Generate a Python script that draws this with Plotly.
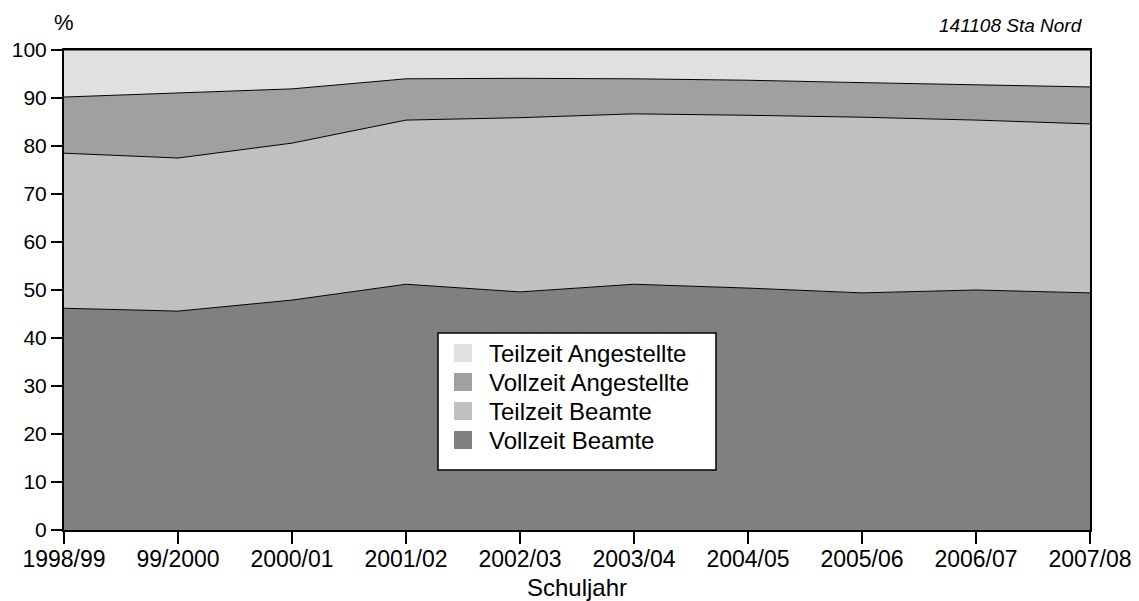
import plotly.graph_objects as go

years = ["1998/99", "99/2000", "2000/01", "2001/02", "2002/03",
         "2003/04", "2004/05", "2005/06", "2006/07", "2007/08"]
vollzeit_beamte = [46.2, 45.6, 47.9, 51.2, 49.6, 51.2, 50.4, 49.4, 50.0, 49.4]
teilzeit_beamte = [32.3, 31.9, 32.7, 34.2, 36.3, 35.5, 36.0, 36.6, 35.4, 35.2]
vollzeit_angestellte = [11.7, 13.5, 11.3, 8.6, 8.2, 7.3, 7.3, 7.2, 7.3, 7.7]
teilzeit_angestellte = [9.8, 9.0, 8.1, 6.0, 5.9, 6.0, 6.3, 6.8, 7.3, 7.7]

series = [
    ("Vollzeit Beamte", vollzeit_beamte, "#808080"),
    ("Teilzeit Beamte", teilzeit_beamte, "#c0c0c0"),
    ("Vollzeit Angestellte", vollzeit_angestellte, "#a0a0a0"),
    ("Teilzeit Angestellte", teilzeit_angestellte, "#e0e0e0"),
]

FONT = "Arial, Liberation Sans, sans-serif"

# plot-area geometry (pixels within the figure div)
PL, PT, PW, PH = 56, 42, 1026, 480


def px_x(x):  # figure pixel -> paper x
    return (x - PL) / PW


def px_y(y):  # figure pixel -> paper y
    return (PT + PH - y) / PH


fig = go.Figure()
for name, vals, col in series:
    fig.add_trace(go.Scatter(
        x=years, y=vals, name=name, mode="lines",
        stackgroup="one", fillcolor=col,
        line=dict(color="black", width=1),
        showlegend=False,
    ))

# legend box (drawn as a framed box with swatches and text labels)
shapes = [dict(type="rect", xref="paper", yref="paper",
               x0=px_x(430), x1=px_x(708), y0=px_y(462), y1=px_y(325),
               fillcolor="white", line=dict(color="black", width=1.5),
               layer="above")]
annotations = []
row0, row_gap = 345, 29
for i, (name, vals, col) in enumerate(reversed(series)):
    yc = row0 + i * row_gap
    shapes.append(dict(type="rect", xref="paper", yref="paper",
                       x0=px_x(446), x1=px_x(464),
                       y0=px_y(yc + 9), y1=px_y(yc - 9),
                       fillcolor=col, line=dict(width=0), layer="above"))
    annotations.append(dict(text=name, xref="paper", yref="paper",
                            x=px_x(479), y=px_y(yc), xanchor="left",
                            yanchor="middle", showarrow=False,
                            font=dict(size=24)))

annotations += [
    dict(text="%", xref="paper", yref="paper", x=0.0, y=1.057,
         xanchor="center", yanchor="middle", showarrow=False,
         font=dict(size=22)),
    dict(text="<i>141108 Sta Nord</i>", xref="paper", yref="paper",
         x=0.995, y=1.052, xanchor="right", yanchor="middle",
         showarrow=False, font=dict(size=19)),
]

fig.update_layout(
    width=1131, height=593,
    margin=dict(l=PL, r=1131 - PL - PW, t=PT, b=593 - PT - PH),
    paper_bgcolor="white", plot_bgcolor="white",
    font=dict(family=FONT, size=21, color="black"),
    showlegend=False,
    shapes=shapes,
    annotations=annotations,
    xaxis=dict(
        type="category", range=[0, 9], automargin=False,
        showline=True, linecolor="black", linewidth=2, mirror=True,
        ticks="outside", ticklen=12, tickcolor="black", tickwidth=2,
        showgrid=False, zeroline=False,
        tickfont=dict(size=23), ticklabelstandoff=-5,
        title=dict(text="Schuljahr", font=dict(size=24), standoff=11),
    ),
    yaxis=dict(
        range=[0, 100], dtick=10, automargin=False,
        showline=True, linecolor="black", linewidth=2, mirror=True,
        ticks="outside", ticklen=11, tickcolor="black", tickwidth=2,
        showgrid=False, zeroline=False,
        tickfont=dict(size=21),
    ),
)

fig.write_html("out.html")
